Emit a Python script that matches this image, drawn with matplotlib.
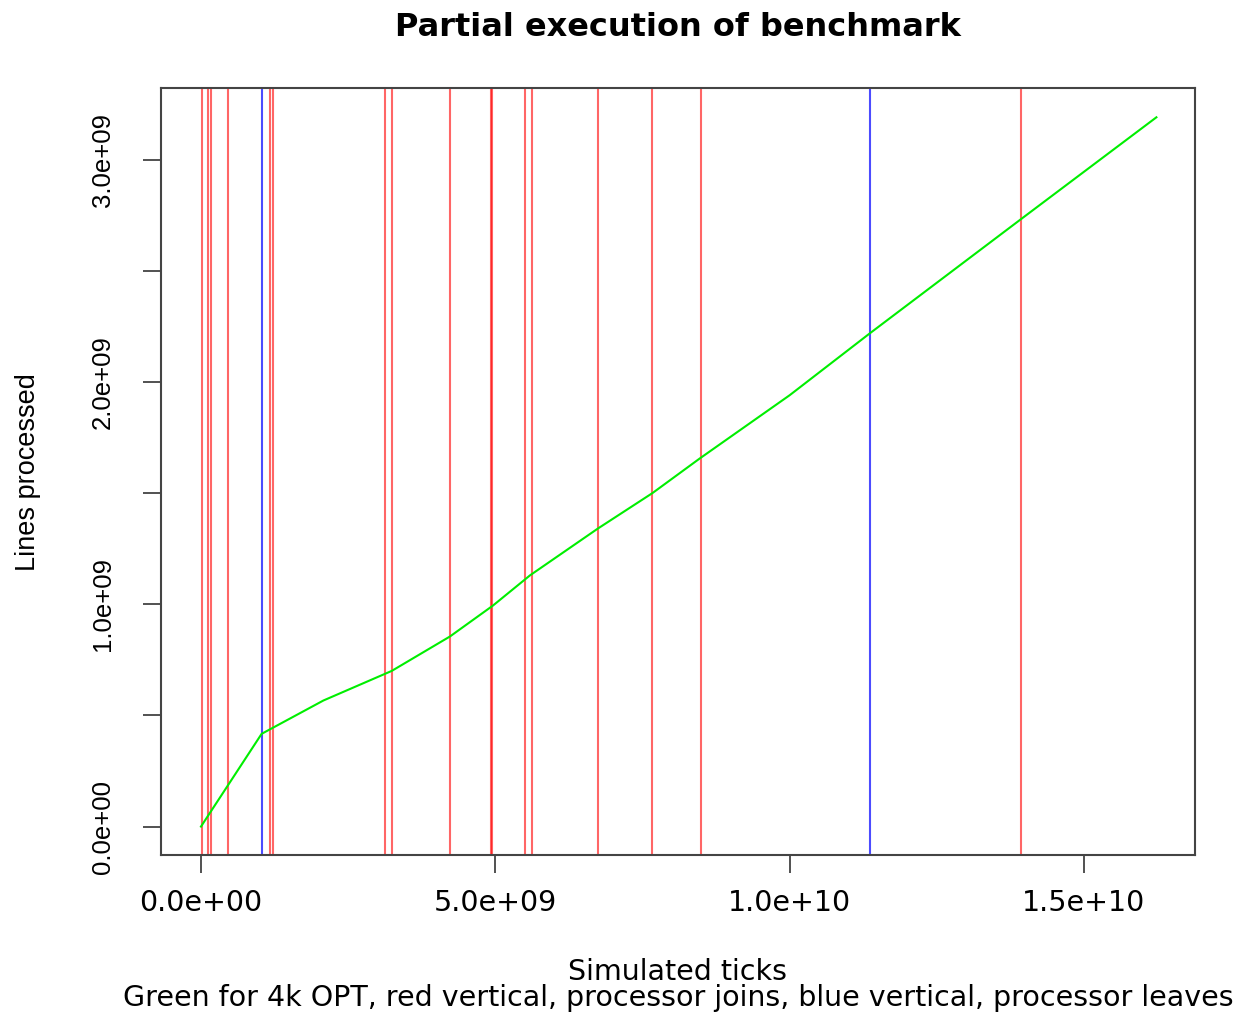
import matplotlib.pyplot as plt

# green curve: 4k OPT run
ticks = [0.0, 1.03e9, 2.08e9, 3.24e9, 4.23e9, 4.96e9, 5.59e9, 6.74e9, 7.67e9,
         8.47e9, 10.0e9, 11.37e9, 13.92e9, 16.23e9]
lines = [0.0, 0.417e9, 0.567e9, 0.70e9, 0.855e9, 0.994e9, 1.13e9, 1.34e9, 1.50e9,
         1.655e9, 1.94e9, 2.22e9, 2.73e9, 3.19e9]

# processor joins (red) / leaves (blue)
joins = [0.012e9, 0.119e9, 0.17e9, 0.458e9, 1.17e9, 1.22e9, 3.12e9, 3.25e9, 4.23e9,
         4.92e9, 4.95e9, 5.50e9, 5.63e9, 6.75e9, 7.67e9, 8.49e9, 13.93e9]
leaves = [1.04e9, 11.37e9]

plt.rcParams['font.family'] = ['DejaVu Sans']
narrow = ['Liberation Sans Narrow', 'Liberation Sans']

fig = plt.figure(figsize=(12.38, 10.16), dpi=100)
ax = fig.add_axes([0.130, 0.158, 0.835, 0.755])

for x in joins:
    ax.axvline(x, color='red', lw=1.5, alpha=0.6)
for x in leaves:
    ax.axvline(x, color='blue', lw=1.5, alpha=0.7)
ax.plot(ticks, lines, color='#00ee00', lw=1.5)

ax.set_xlim(-0.68e9, 16.88e9)
ax.set_ylim(-0.13e9, 3.32e9)

ax.set_xticks([0, 5e9, 1e10, 1.5e10])
ax.set_xticklabels(['0.0e+00', '5.0e+09', '1.0e+10', '1.5e+10'], fontsize=20.5)
yt = [0, 0.5e9, 1e9, 1.5e9, 2e9, 2.5e9, 3e9]
ax.set_yticks(yt)
ax.set_yticklabels(['0.0e+00', '', '1.0e+09', '', '2.0e+09', '', '3.0e+09'],
                   rotation=90, va='center', fontsize=18.5, family=narrow)
ax.tick_params(length=13, width=1.2, color='#333333')
ax.tick_params(axis='x', pad=11)
ax.tick_params(axis='y', pad=20)
for s in ax.spines.values():
    s.set_color('#444444')
    s.set_linewidth(1.5)

ax.set_title('Partial execution of benchmark', fontsize=23, fontweight='bold', pad=38)
ax.set_xlabel('Simulated ticks', fontsize=20.5, labelpad=30)
fig.text(0.5477, 0.0177,
         'Green for 4k OPT, red vertical, processor joins, blue vertical, processor leaves',
         fontsize=20.5, ha='center', va='center')
ax.set_ylabel('Lines processed', fontsize=19.5, labelpad=36, family=narrow)

fig.savefig('out.png', dpi=100)
